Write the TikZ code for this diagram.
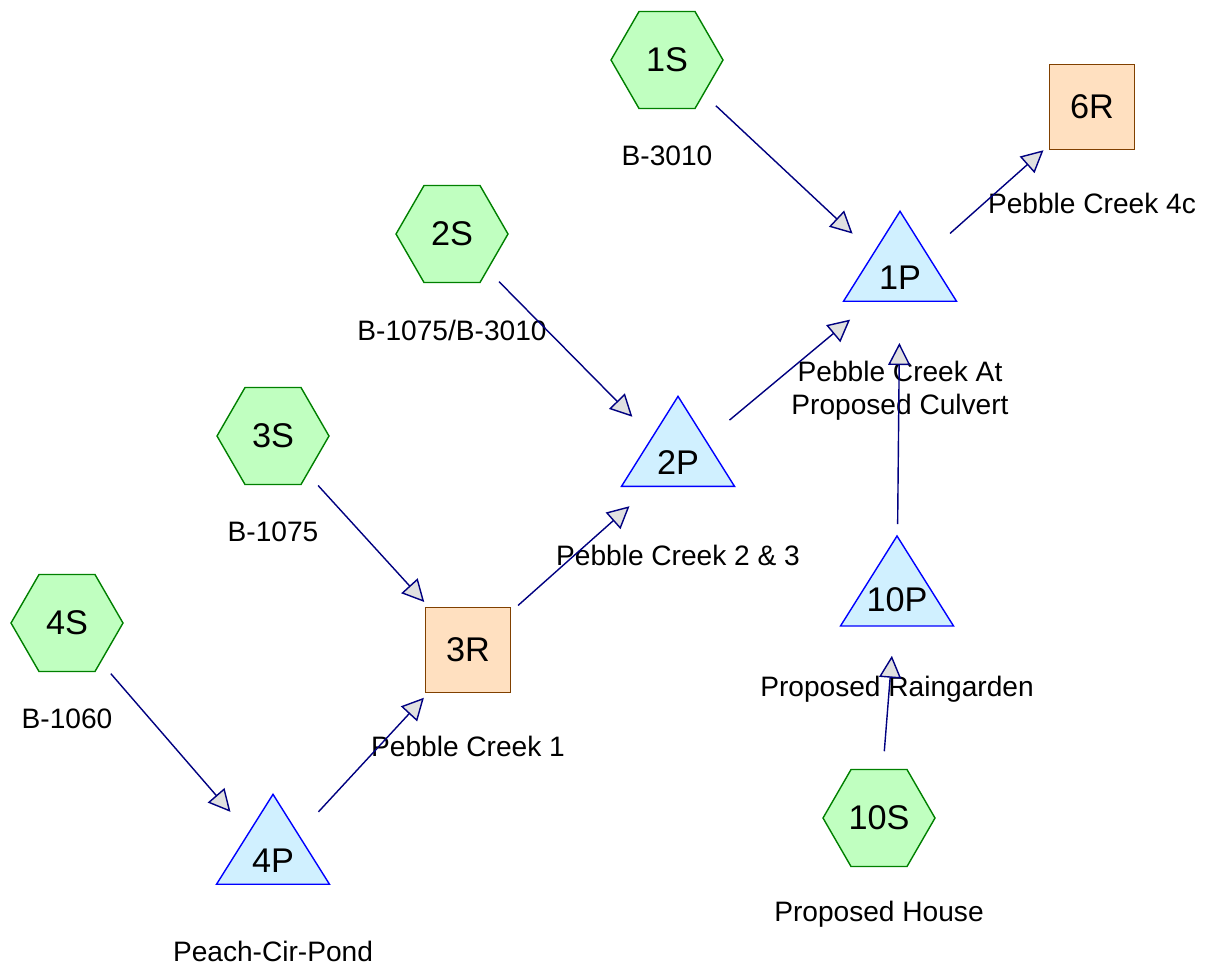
\documentclass[tikz,border=0pt]{standalone}
\usepackage{fontspec}
\setmainfont{Liberation Sans}
\usetikzlibrary{shapes.geometric, arrows.meta}
\usetikzlibrary{positioning}

\definecolor{basin_fill}{HTML}{C0FFC0}
\definecolor{basin_line}{HTML}{008000}
\definecolor{pond_fill}{HTML}{D0F0FF}
\definecolor{pond_line}{HTML}{0000FF}
\definecolor{reach_fill}{HTML}{FFE0C0}
\definecolor{reach_line}{HTML}{804000}
\definecolor{flow_line}{HTML}{000080}

\begin{document}
\begin{tikzpicture}[x=0.02cm, y=-0.02cm,
        nodes={inner sep=0pt},
        basin_style/.style={regular polygon, regular polygon sides=6, minimum size=2.24cm,
          draw=basin_line, fill=basin_fill, line width=0.8pt, font={\fontsize{19.5}{23}\selectfont}},
        pond_style/.style={isosceles triangle, isosceles triangle stretches, shape border rotate=90,
          minimum width=2.26cm, minimum height=1.8cm,
          draw=pond_line, fill=pond_fill, line width=0.8pt, font={\fontsize{19.5}{23}\selectfont}},
        reach_style/.style={rectangle, minimum size=1.7cm,
          draw=reach_line, fill=reach_fill, line width=0.8pt, font={\fontsize{19.5}{23}\selectfont}},
        text_style/.style={align=center, font={\fontsize{16}{19}\selectfont}},
        flow_style/.style={draw=flow_line, line width=0.8pt, shorten <=1.34cm, shorten >=1.3cm,
          -{Triangle[length=0.44cm, width=0.44cm, fill=black!12]}},
      node distance=1.92cm]

      \useasboundingbox (0,0) rectangle (1209,968);

      % subcatchments
      \node[basin_style] (s1) at (667,60) {1S};
      \node[basin_style] (s2) at (452,234) {2S};
      \node[basin_style] (s3) at (273,436) {3S};
      \node[basin_style] (s4) at (67,623) {4S};
      \node[basin_style] (s10) at (879,818) {10S};

      % ponds and reaches
      \node[pond_style] (p1) at (900,278) {1P};
      \node[pond_style] (p2) at (678,463) {2P};
      \node[pond_style] (p4) at (273,861) {4P};
      \node[pond_style] (p10) at (897,591) {\makebox[0pt]{\raisebox{-0.18cm}[\height][\depth]{10P}}};
      \node[reach_style] (r3) at (468,650) {3R};
      \node[reach_style] (r6) at (1092,107) {6R};

      \node[text_style, below of=s1] (s1_lbl) {B-3010};
      \node[text_style, below of=s2] (s2_lbl) {B-1075/B-3010};
      \node[text_style, below of=s3] (s3_lbl) {B-1075};
      \node[text_style, below of=s4] (s4_lbl) {B-1060};
      \node[text_style, below of=s10] (s10_lbl) {Proposed House};
      \node[text_style, below of=p1, yshift=-0.34cm] (p1_lbl) {Pebble Creek At\\Proposed Culvert};
      \node[text_style, below of=p2, yshift=0.08cm] (p2_lbl) {Pebble Creek 2 \& 3};
      \node[text_style, below of=p4, yshift=0.12cm] (p4_lbl) {Peach-Cir-Pond};
      \node[text_style, below of=p10, yshift=-0.04cm] (p10_lbl) {Proposed Raingarden};
      \node[text_style, below of=r3] (r3_lbl) {Pebble Creek 1};
      \node[text_style, below of=r6] (r6_lbl) {Pebble Creek 4c};

      \draw[flow_style] (s1.center) -- (p1.center);
      \draw[flow_style] (s2.center) -- (p2.center);
      \draw[flow_style] (s3.center) -- (r3.center);
      \draw[flow_style] (s4.center) -- (p4.center);
      \draw[flow_style] (s10.center) -- (p10.center);
      \draw[flow_style] (p4.center) -- (r3.center);
      \draw[flow_style] (r3.center) -- (p2.center);
      \draw[flow_style] (p2.center) -- (p1.center);
      \draw[flow_style] (p10.center) -- (p1.center);
      \draw[flow_style] (p1.center) -- (r6.center);
    \end{tikzpicture}
\end{document}
